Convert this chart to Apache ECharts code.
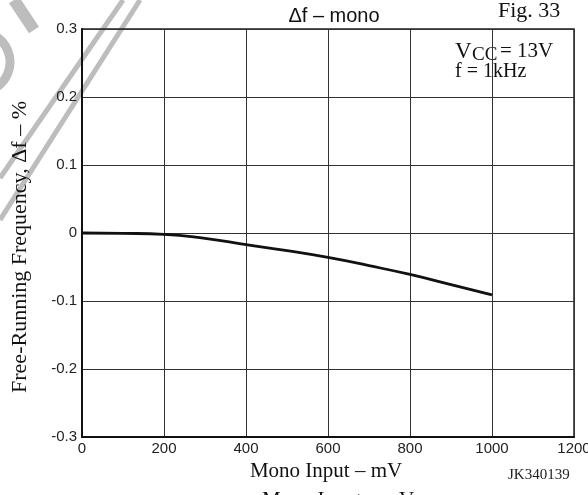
<!DOCTYPE html>
<html><head><meta charset="utf-8">
<script src="https://cdn.jsdelivr.net/npm/echarts@6/dist/echarts.min.js"></script>
<style>html,body{margin:0;padding:0;background:#fff}#c{width:588px;height:495px}</style>
</head><body><div id="c"></div>
<script>
const monoInput = [0, 100, 200, 300, 400, 500, 600, 700, 800, 900, 1000];
const deltaF = [0, -0.0005, -0.002, -0.008, -0.017, -0.026, -0.036, -0.048, -0.061, -0.076, -0.091];
const xTicks = [0, 200, 400, 600, 800, 1000, 1200];
const yTicks = [-0.3, -0.2, -0.1, 0, 0.1, 0.2, 0.3];

const chart = echarts.init(document.getElementById('c'), null, {renderer: 'canvas'});
const serif = '"Liberation Serif", "Times New Roman", serif';
const sans = '"Liberation Sans", Arial, sans-serif';
const wm = '#bdbdbd';
chart.setOption({
  backgroundColor: '#fff',
  animation: false,
  grid: {left: 82, right: 14, top: 29, bottom: 58, show: true, borderColor: '#222', borderWidth: 1.5,
    containLabel: false, outerBoundsMode: 'none'},
  title: {text: 'Δf – mono', left: 329, textAlign: 'center', top: 1,
    textStyle: {fontFamily: sans, fontSize: 20, fontWeight: 'normal', color: '#111'}},
  xAxis: {
    type: 'value', min: 0, max: 1200, interval: 200,
    axisLine: {show: true, onZero: false, lineStyle: {color: '#111', width: 2}},
    axisTick: {show: false},
    splitLine: {show: true, lineStyle: {color: '#333', width: 1}},
    axisLabel: {color: '#222', fontFamily: sans, fontSize: 15, margin: 4,
      formatter: v => xTicks.includes(v) ? String(v) : ''},
    name: 'Mono Input – mV', nameLocation: 'middle', nameGap: 20,
    nameTextStyle: {fontFamily: serif, fontSize: 21, color: '#111', verticalAlign: 'top', padding: [0, 4, 0, 0]}
  },
  yAxis: {
    type: 'value', min: -0.3, max: 0.3, interval: 0.1,
    axisLine: {show: true, onZero: false, lineStyle: {color: '#111', width: 2}},
    axisTick: {show: false},
    splitLine: {show: true, lineStyle: {color: '#333', width: 1}},
    axisLabel: {color: '#222', fontFamily: sans, fontSize: 15, margin: 5,
      formatter: v => { const r = Math.round(v * 10) / 10; return yTicks.includes(r) ? (r === 0 ? '0' : String(r)) : ''; }},
    name: 'Free-Running Frequency, Δf – %', nameLocation: 'middle', nameGap: 51,
    nameTextStyle: {fontFamily: serif, fontSize: 22, color: '#111', padding: [0, 28, 0, 0]}
  },
  series: [{
    type: 'line', data: monoInput.map((x, i) => [x, deltaF[i]]),
    smooth: true, showSymbol: false,
    lineStyle: {color: '#111', width: 2.8}
  }],
  graphic: [
    {type: 'line', silent: true, z: -1, shape: {x1: 123, y1: 0, x2: 0, y2: 178}, style: {stroke: wm, lineWidth: 5}},
    {type: 'line', silent: true, z: -1, shape: {x1: 140, y1: 0, x2: 0, y2: 220}, style: {stroke: wm, lineWidth: 5}},
    {type: 'line', silent: true, z: -1, shape: {x1: 14, y1: 0, x2: 34, y2: 30}, style: {stroke: wm, lineWidth: 12}},
    {type: 'arc', silent: true, z: -1, shape: {cx: -20, cy: 62, r: 30, startAngle: -1.2, endAngle: 1.2}, style: {stroke: wm, lineWidth: 9, fill: 'none'}},
    {type: 'text', left: 498, top: 0, style: {text: 'Fig. 33', font: '22px ' + serif, fill: '#111'}},
    {type: 'text', left: 455, top: 40, style: {text: 'V', font: '23px ' + serif, fill: '#111'}},
    {type: 'text', left: 472, top: 46, style: {text: 'CC', font: '19px ' + serif, fill: '#111'}},
    {type: 'text', left: 500, top: 41, style: {text: '= 13V', font: '21px ' + serif, fill: '#111'}},
    {type: 'text', left: 455, top: 62, style: {text: 'f = 1kHz', font: '20px ' + serif, fill: '#111'}},
    {type: 'text', left: 508, top: 468, style: {text: 'JK340139', font: '15px ' + serif, fill: '#222'}},
    {type: 'text', left: 262, top: 490, style: {text: 'Mono Input – mV', font: '21px ' + serif, fill: '#111'}}
  ]
});
</script></body></html>
